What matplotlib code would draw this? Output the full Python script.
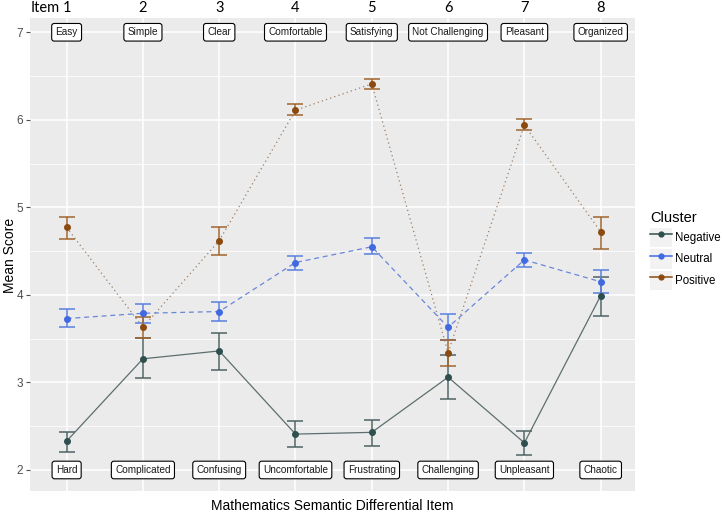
import matplotlib
matplotlib.use("Agg")
import matplotlib.pyplot as plt
from matplotlib.lines import Line2D
from matplotlib.patches import Patch
from matplotlib.legend_handler import HandlerTuple
import numpy as np

items = [1, 2, 3, 4, 5, 6, 7, 8]
item_labels = ["1", "2", "3", "4", "5", "6", "7", "8"]
pos_words = ["Easy", "Simple", "Clear", "Comfortable", "Satisfying", "Not Challenging", "Pleasant", "Organized"]
neg_words = ["Hard", "Complicated", "Confusing", "Uncomfortable", "Frustrating", "Challenging", "Unpleasant", "Chaotic"]

clusters = ["Negative", "Neutral", "Positive"]
neg_mean = [2.33, 3.27, 3.36, 2.41, 2.43, 3.06, 2.31, 3.99]
neg_lo   = [2.21, 3.05, 3.14, 2.26, 2.27, 2.81, 2.17, 3.76]
neg_hi   = [2.43, 3.51, 3.56, 2.56, 2.57, 3.31, 2.45, 4.21]
neu_mean = [3.73, 3.79, 3.81, 4.37, 4.55, 3.63, 4.40, 4.15]
neu_lo   = [3.63, 3.68, 3.70, 4.29, 4.47, 3.49, 4.32, 4.02]
neu_hi   = [3.84, 3.90, 3.92, 4.45, 4.65, 3.78, 4.48, 4.28]
pos_mean = [4.77, 3.63, 4.62, 6.11, 6.41, 3.34, 5.94, 4.72]
pos_lo   = [4.64, 3.51, 4.46, 6.05, 6.35, 3.19, 5.88, 4.53]
pos_hi   = [4.89, 3.75, 4.77, 6.18, 6.47, 3.49, 6.01, 4.89]

W, H = 722, 514
fig = plt.figure(figsize=(W/100, H/100), dpi=100)
ax = fig.add_axes([30/W, 23/H, 605/W, 473/H])
ax.set_facecolor("#EBEBEB")
for s in ax.spines.values():
    s.set_visible(False)

ax.set_xlim(0.52, 8.45)
ax.set_ylim(1.76, 7.163)

# grid
for y in [2, 3, 4, 5, 6, 7]:
    ax.axhline(y, color="white", lw=1.1, zorder=0)
for y in [2.5, 3.5, 4.5, 5.5, 6.5]:
    ax.axhline(y, color="white", lw=0.55, zorder=0)
for x in items:
    ax.axvline(x, color="white", lw=1.1, zorder=0)

styles = {
    "Negative": dict(c="#2F4F4F", ec="#4F6464", lc="#5E6E6E", ls="-", m=neg_mean, lo=neg_lo, hi=neg_hi),
    "Neutral": dict(c="#4169E1", ec="#5A7FE0", lc="#6A86D8", ls=(0, (4, 3)), m=neu_mean, lo=neu_lo, hi=neu_hi),
    "Positive": dict(c="#8B4A0F", ec="#A0652E", lc="#9C7F66", ls=(0, (1, 2.5)), m=pos_mean, lo=pos_lo, hi=pos_hi),
}
handles = []
for name in clusters:
    st = styles[name]
    m = np.array(st["m"]); lo = np.array(st["lo"]); hi = np.array(st["hi"])
    ax.plot(items, m, color=st["lc"], ls=st["ls"], lw=0.9, zorder=2)
    ax.errorbar(items, m, yerr=[m - lo, hi - m], fmt="none", ecolor=st["ec"],
                elinewidth=1.1, capsize=5.5, capthick=1.1, zorder=3)
    ax.plot(items, m, "o", color=st["c"], ms=4.0, zorder=4)
    handles.append((Patch(fc="#F2F2F2", ec="none"),
                    Line2D([0], [0], color=st["c"], lw=1.1, marker="o", ms=3.5)))

# word labels
bbox = dict(boxstyle="round,pad=0.38,rounding_size=0.25", fc="white", ec="black", lw=0.8)
for x, w in zip(items, pos_words):
    ax.text(x, 7, w, ha="center", va="center", fontsize=7.2, family="Liberation Sans",
            color="#1a1a1a", bbox=bbox, zorder=5)
for x, w in zip(items, neg_words):
    ax.text(x, 2, w, ha="center", va="center", fontsize=7.2, family="Liberation Sans",
            color="#1a1a1a", bbox=bbox, zorder=5)

# axes ticks
ax.set_yticks([2, 3, 4, 5, 6, 7])
ax.set_yticklabels(["2", "3", "4", "5", "6", "7"], fontsize=8.5, color="#4D4D4D", family="Liberation Sans")
ax.tick_params(axis="y", length=3, color="#4D4D4D", width=0.8, pad=2)
ax.xaxis.tick_top()
ax.set_xticks(items)
ax.set_xticklabels(item_labels, fontsize=10.5, color="black", family="Lato")
ax.tick_params(axis="x", length=0, pad=2)
fig.text(31/W, 1 - 8/H, "Item", fontsize=10.5, family="Lato", ha="left", va="center")

fig.text(10/W, 1 - 255/H, "Mean Score", rotation=90, fontsize=10, family="Liberation Sans",
         ha="center", va="center")
fig.text(332/W, 1 - 506/H, "Mathematics Semantic Differential Item", fontsize=10,
         family="Liberation Sans", ha="center", va="center")

leg = fig.legend(handles=handles, labels=clusters, title="Cluster", loc="upper left",
                 bbox_to_anchor=(648/W, 1 - 209/H), frameon=False,
                 handler_map={tuple: HandlerTuple(ndivide=1, pad=0)},
                 handlelength=1.85, handleheight=2.2, handletextpad=0.3,
                 labelspacing=0.2, borderaxespad=0, borderpad=0.2,
                 prop={"family": "Liberation Sans", "size": 8.3})
leg._legend_box.align = "left"
leg.get_title().set_family("Liberation Sans")
leg.get_title().set_fontsize(10.5)

fig.savefig("out.png", dpi=100)
